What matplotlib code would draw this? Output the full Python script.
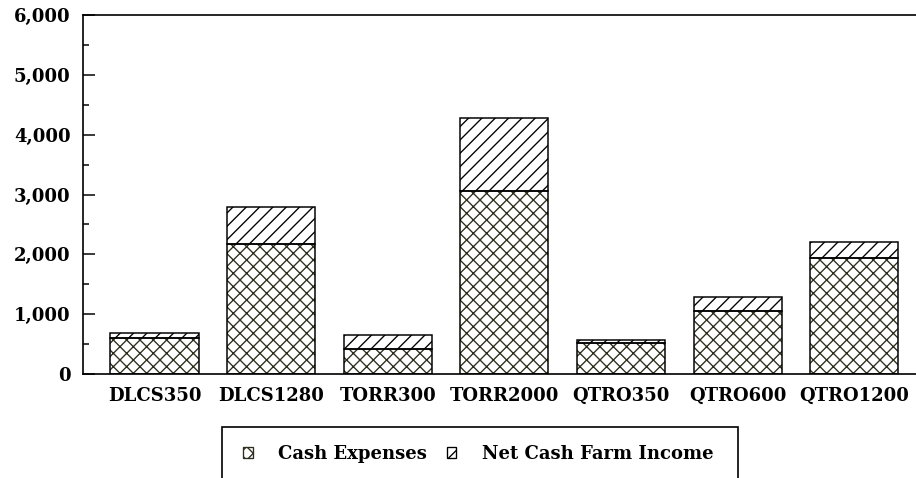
import matplotlib
matplotlib.use("Agg")
import matplotlib.pyplot as plt
from matplotlib.patches import Patch, Rectangle
from matplotlib.ticker import MultipleLocator, FuncFormatter

categories = ["DLCS350", "DLCS1280", "TORR300", "TORR2000", "QTRO350", "QTRO600", "QTRO1200"]
cash_expenses = [607, 2179, 418, 3060, 524, 1059, 1934]
net_cash_income = [73, 614, 234, 1221, 45, 234, 268]
series_names = ["Cash Expenses", "Net Cash Farm Income"]

DPI = 120
W, H = 916, 478
FS = 10.8
plt.rcParams['font.family'] = ['DejaVu Serif']
plt.rcParams['font.weight'] = 'bold'
plt.rcParams['hatch.linewidth'] = 0.8

fig = plt.figure(figsize=(W / DPI, H / DPI), dpi=DPI)
ax = fig.add_axes([83 / W, (H - 374) / H, (W - 83) / W, (374 - 15) / H])

x = list(range(len(categories)))
width = 0.755
cross_col = '#2e2e1e'

ax.bar(x, cash_expenses, width, color='white', edgecolor=cross_col, hatch='xxx', linewidth=0)
ax.bar(x, net_cash_income, width, bottom=cash_expenses, color='white', edgecolor='black', hatch='///', linewidth=0)
ax.bar(x, cash_expenses, width, fill=False, edgecolor='black', linewidth=0.9)
ax.bar(x, net_cash_income, width, bottom=cash_expenses, fill=False, edgecolor='black', linewidth=0.9)

ax.set_xlim(-0.613, 6.53)
ax.set_ylim(0, 6000)
ax.yaxis.set_major_locator(MultipleLocator(1000))
ax.yaxis.set_minor_locator(MultipleLocator(500))
ax.yaxis.set_major_formatter(FuncFormatter(lambda v, p: f"{int(v):,}"))
ax.tick_params(axis='y', which='major', direction='in', length=7.2, width=0.9, pad=7.5, labelsize=FS)
ax.tick_params(axis='y', which='minor', direction='in', length=3.6, width=0.9)
ax.set_xticks(x)
ax.set_xticklabels(categories)
ax.tick_params(axis='x', length=0, pad=8, labelsize=FS)
for lab in ax.get_xticklabels() + ax.get_yticklabels():
    lab.set_fontweight('bold')

ax.spines['right'].set_visible(False)
for s in ['left', 'bottom', 'top']:
    ax.spines[s].set_linewidth(1.0)

# legend frame
fig.patches.append(Rectangle((222 / W, -0.2), (738 - 222) / W, 0.2 + 1 - 427 / H,
                             transform=fig.transFigure, fill=False, edgecolor='black',
                             linewidth=1.0))
handles = [Patch(facecolor='white', edgecolor=cross_col, hatch='xxx', linewidth=0.8),
           Patch(facecolor='white', edgecolor='black', hatch='///', linewidth=0.8)]
leg = fig.legend(handles, series_names, loc='center', bbox_to_anchor=(478 / W, 1 - 454 / H),
                 ncol=2, frameon=False, prop={'family': 'DejaVu Serif', 'weight': 'bold', 'size': FS},
                 handlelength=0.55, handleheight=0.55, handletextpad=1.4, columnspacing=1.1)

fig.savefig("out.png", dpi=DPI)
